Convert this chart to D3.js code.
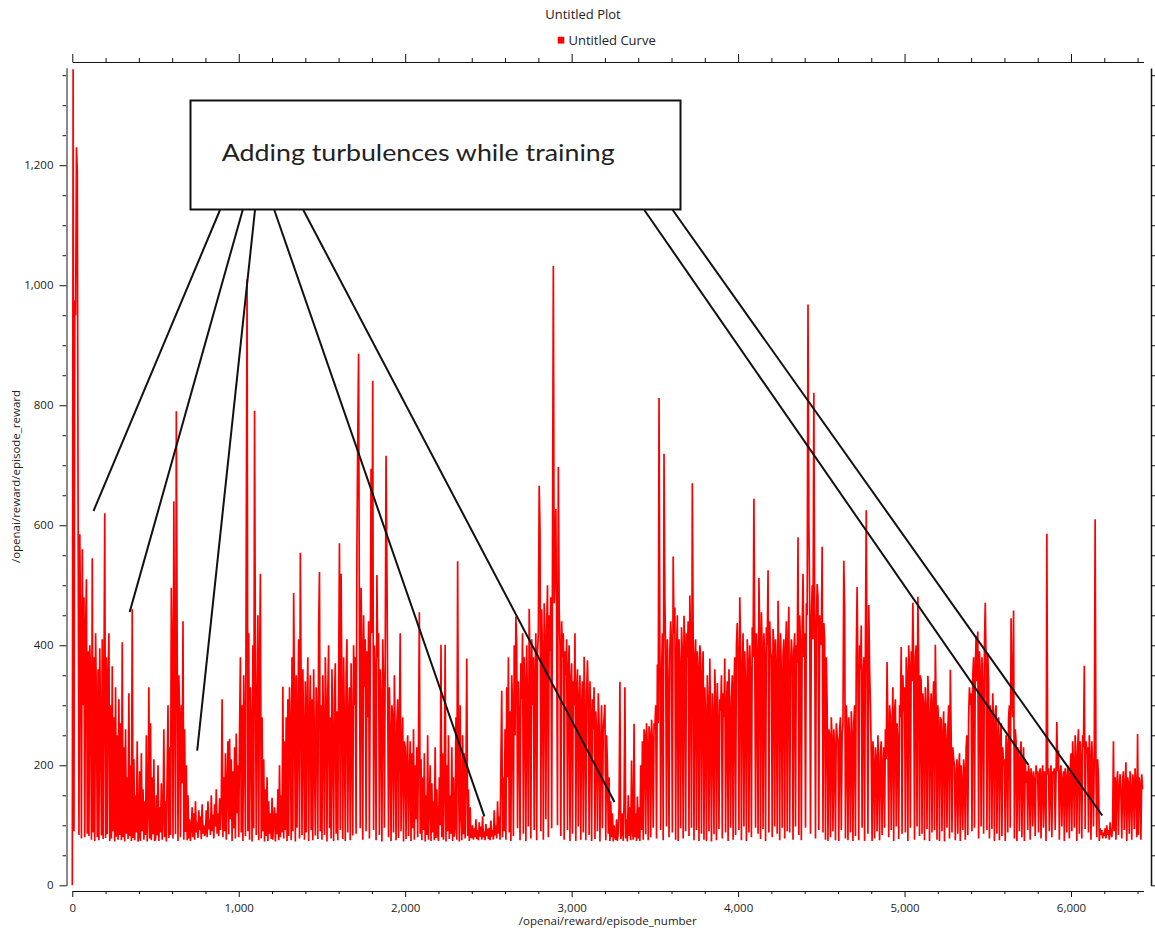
<!DOCTYPE html>
<html>
<head>
<meta charset="utf-8">
<script src="https://cdn.jsdelivr.net/npm/d3@7"></script>
<style>
  body { margin: 0; background: #fff; }
  text { font-family: "Open Sans", "DejaVu Sans", sans-serif; fill: #222; }
</style>
</head>
<body>
<svg id="chart" width="1155" height="930"></svg>
<script>
// Episode reward, one sample every 5 episodes (rows of 100 episodes)
const episodeRewards = [
  0,1360,90,975,950,1230,1190,610,84,585,420,78,560,300,480,80,430,510,86,390,
  82,400,350,76,545,88,380,74,420,300,80,360,75,395,270,83,410,77,330,620,
  79,380,85,350,420,74,300,78,365,90,280,73,330,81,250,76,310,84,270,75,
  405,80,230,73,260,86,180,77,320,82,200,74,460,79,210,75,150,88,240,73,
  81,190,74,220,90,160,76,140,84,250,73,120,330,78,270,75,180,85,210,74,
  77,150,83,200,74,130,88,170,76,110,260,80,140,73,190,300,79,230,84,496,
  380,78,640,320,85,790,410,74,350,280,80,300,170,440,76,260,89,200,75,150,
  78,110,74,95,130,80,120,76,140,88,105,79,125,92,115,77,135,86,100,82,
  88,125,80,140,93,110,84,150,90,118,78,135,98,160,86,120,82,145,92,130,
  310,80,180,90,220,76,160,240,85,244,110,210,74,190,95,230,78,253,120,200,
  80,260,380,88,300,74,350,240,82,560,1010,90,420,76,330,260,73,400,95,791,
  380,84,300,450,75,360,519,78,280,90,210,73,160,82,180,74,140,86,120,77,
  146,76,110,130,73,120,85,160,75,200,80,150,88,331,78,240,92,280,74,310,
  82,330,260,75,380,90,487,300,73,350,96,280,410,78,554,320,84,360,250,76,
  340,88,300,380,74,270,350,92,310,75,360,220,83,330,280,77,430,522,90,300,
  76,350,260,84,380,300,73,320,400,95,280,78,360,240,74,310,370,86,290,75,
  330,570,92,519,300,77,380,260,74,350,410,88,280,330,75,370,250,83,400,300,
  380,86,566,746,886,420,95,496,380,76,450,330,410,90,390,280,440,78,360,694,
  420,841,92,400,350,75,517,380,420,84,360,300,73,410,340,96,380,716,537,300,
  80,330,250,74,300,280,88,350,240,75,270,310,79,260,420,90,220,280,73,240,
  230,77,210,250,82,180,240,74,220,95,260,76,200,110,230,80,240,455,86,210,
  75,180,92,220,73,150,84,250,76,130,200,74,170,88,140,75,230,79,160,85,
  74,180,100,401,80,220,76,160,401,73,200,90,250,77,150,86,230,74,180,81,
  96,280,76,540,200,73,300,120,75,250,85,220,78,180,378,82,160,74,130,80,
  79,100,76,95,80,110,77,92,75,105,81,98,76,115,80,90,75,102,82,94,
  77,96,75,108,81,92,76,125,83,100,78,140,86,115,76,200,324,80,180,90,
  260,76,330,180,380,88,290,74,350,300,82,400,250,448,399,95,340,280,75,370,
  310,420,86,380,330,74,400,290,98,461,360,78,410,300,380,92,350,420,75,390,
  420,666,591,90,460,380,76,470,410,110,430,500,80,450,390,480,95,560,1032,470,
  520,627,430,100,697,460,400,82,440,380,420,76,390,350,410,92,360,400,74,340,
  370,86,340,300,420,74,330,360,98,310,350,76,300,340,88,381,290,75,320,375,
  300,84,340,280,74,310,260,330,77,290,250,90,320,270,73,240,300,95,260,280,
  301,75,250,200,86,180,74,140,80,120,73,100,82,76,110,74,88,130,339,77,
  85,120,74,140,330,78,110,73,150,82,130,75,208,90,76,269,80,120,74,148,
  78,130,74,200,92,240,76,260,250,85,270,230,75,265,250,80,276,240,96,270,
  260,300,78,368,270,812,400,92,350,420,75,719,480,380,98,410,330,80,390,440,
  400,88,548,420,463,76,380,450,74,410,360,95,430,390,78,449,400,90,420,380,
  440,82,483,400,96,670,420,75,380,410,92,390,360,74,400,384,86,350,390,76,
  330,280,74,350,300,90,378,260,73,320,280,85,360,300,75,337,270,94,310,290,
  350,78,320,280,378,88,300,340,74,360,290,96,310,350,76,330,380,84,400,437,
  380,92,480,400,75,360,420,98,390,330,74,410,370,88,400,350,80,430,380,644,
  400,96,420,380,86,512,410,77,455,390,94,420,380,74,430,400,525,88,440,390,
  380,80,427,400,98,410,360,86,474,380,75,420,350,96,386,410,78,390,440,90,
  400,464,88,356,410,380,76,390,420,98,400,370,580,84,450,400,75,430,519,380,
  420,96,470,450,968,606,480,86,440,500,410,821,460,78,430,502,480,92,450,420,
  400,564,88,437,410,76,380,300,74,260,250,80,280,240,90,260,230,75,270,250,
  240,74,260,280,92,250,270,541,463,78,300,260,75,280,240,88,290,250,74,270,
  300,82,380,497,340,75,400,360,433,96,350,380,74,410,625,330,86,467,360,300,
  220,74,240,200,78,230,210,90,250,190,75,220,240,84,200,230,96,260,210,372,
  250,80,300,280,92,260,330,74,290,310,98,270,240,77,300,280,397,86,350,290,
  330,88,380,350,74,400,360,96,390,340,471,355,76,380,400,98,481,370,82,350,
  340,86,320,300,75,330,290,94,349,310,74,280,320,88,300,340,92,401,290,76,
  300,260,74,280,276,90,250,290,73,270,240,96,260,300,78,359,250,88,230,210,
  200,75,180,210,86,190,220,74,200,170,92,210,190,76,230,250,84,280,330,300,
  320,90,350,380,96,360,416,340,423,78,390,350,98,380,330,86,400,471,360,92,
  386,340,78,300,280,94,320,260,74,289,300,86,250,280,75,240,270,82,230,200,
  210,74,250,230,88,280,300,96,445,320,280,458,78,260,240,74,230,210,90,220,
  240,80,200,230,74,210,170,190,92,200,185,76,195,180,98,190,175,82,200,185,
  190,88,185,195,78,180,200,96,190,175,74,586,185,195,90,180,200,80,190,185,
  195,92,180,272,190,225,76,185,200,98,175,190,74,195,180,88,200,185,78,190,
  220,90,240,200,96,250,210,74,230,260,86,240,210,78,250,230,366,94,240,220,
  230,88,250,210,76,240,200,98,220,610,190,80,210,180,74,95,84,92,78,88,
  82,95,78,100,84,92,76,105,88,80,98,240,90,180,76,170,190,84,160,185,
  150,78,175,190,92,160,205,74,180,170,86,190,160,76,185,175,94,195,165,80,
  252,84,180,170,76,185,160
];
const episodeStep = 5;

const xDomain = [0, 6435];
const yDomain = [0, 1362];
const xMajorTicks = [0, 1000, 2000, 3000, 4000, 5000, 6000];
const xMinorTicks = [200, 400, 600, 800, 1200, 1400, 1600, 1800, 2200, 2400, 2600, 2800,
                     3200, 3400, 3600, 3800, 4200, 4400, 4600, 4800, 5200, 5400, 5600, 5800, 6200, 6400];
const yMajorTicks = [0, 200, 400, 600, 800, 1000, 1200];
const yMinorTicks = [50, 100, 150, 250, 300, 350, 450, 500, 550, 650, 700, 750,
                     850, 900, 950, 1050, 1100, 1150, 1250, 1300, 1350];

const titleText = "Untitled Plot";
const legendText = "Untitled Curve";
const xLabel = "/openai/reward/episode_number";
const yLabel = "/openai/reward/episode_reward";
const noteText = "Adding turbulences while training";
// Callout leader lines: [start x, start y, end x, end y] in page pixels
const noteLeaders = [
  [220, 210, 93.5, 511],
  [242.7, 210, 129.7, 612],
  [255, 210, 197.2, 750.6],
  [274.3, 210, 484.4, 816.4],
  [303.3, 210, 614.5, 802],
  [644.3, 210, 1028.5, 765],
  [672.7, 210, 1102.3, 815.5]
];

const svg = d3.select("#chart");
const x = d3.scaleLinear().domain(xDomain).range([72.3, 1143.4]);
const y = d3.scaleLinear().domain(yDomain).range([885.3, 68]);
const fmt = d3.format(",");

// Title and legend
svg.append("text").attr("x", 583).attr("y", 18.5).attr("text-anchor", "middle")
  .style("font-size", "13px").text(titleText);
svg.append("rect").attr("x", 557.7).attr("y", 36.8).attr("width", 6.6).attr("height", 6.8).attr("fill", "#ff0000");
svg.append("text").attr("x", 568.5).attr("y", 44.5).style("font-size", "13px").text(legendText);

// Data curve
const line = d3.line().x((d, i) => x(i * episodeStep)).y(d => y(d));
svg.append("path").datum(episodeRewards)
  .attr("d", line).attr("fill", "none").attr("stroke", "#ff0000")
  .attr("stroke-width", 1.7).attr("stroke-linejoin", "bevel");

function styleAxis(g, color, width) {
  g.select(".domain").attr("stroke", color).attr("stroke-width", width);
  g.selectAll(".tick line").attr("stroke", "#111");
  g.selectAll(".tick text").style("font-size", "11.5px").attr("fill", "#222")
    .style("font-family", "'Open Sans', sans-serif");
}

// Bottom axis
const gb = svg.append("g").attr("transform", "translate(0,891)");
gb.append("g").call(d3.axisBottom(x).tickValues(xMinorTicks).tickSize(3).tickSizeOuter(0).tickFormat(""))
  .call(g => styleAxis(g, "#111", 1.2));
gb.append("g").call(d3.axisBottom(x).tickValues(xMajorTicks).tickSize(6).tickSizeOuter(0).tickPadding(6.8).tickFormat(fmt))
  .call(g => styleAxis(g, "#111", 1.2));

// Top axis
const gt = svg.append("g").attr("transform", "translate(0,62)");
gt.append("g").call(d3.axisTop(x).tickValues(xMinorTicks).tickSize(4).tickSizeOuter(0).tickFormat(""))
  .call(g => styleAxis(g, "#111", 1.2));
gt.append("g").call(d3.axisTop(x).tickValues(xMajorTicks).tickSize(8).tickSizeOuter(0).tickFormat(""))
  .call(g => styleAxis(g, "#111", 1.2));

// Left axis
const gl = svg.append("g").attr("transform", "translate(66.5,0)");
gl.append("g").call(d3.axisLeft(y).tickValues(yMinorTicks).tickSize(4).tickSizeOuter(0).tickFormat(""))
  .call(g => styleAxis(g, "#8a8a8a", 2));
gl.append("g").call(d3.axisLeft(y).tickValues(yMajorTicks).tickSize(7).tickSizeOuter(0).tickPadding(6).tickFormat(fmt))
  .call(g => styleAxis(g, "#8a8a8a", 2));

// Right axis
const gr = svg.append("g").attr("transform", "translate(1151,0)");
gr.append("g").call(d3.axisRight(y).tickValues(yMinorTicks.concat(yMajorTicks)).tickSize(4).tickSizeOuter(0).tickFormat(""))
  .call(g => styleAxis(g, "#111", 1.5));

// Axis titles
svg.append("text").attr("x", 607.8).attr("y", 925).attr("text-anchor", "middle")
  .style("font-size", "11.5px").text(xLabel);
svg.append("text").attr("transform", "translate(20,476.5) rotate(-90)").attr("text-anchor", "middle")
  .style("font-size", "11.5px").text(yLabel);

// Callout box with leader lines
svg.append("g").selectAll("line").data(noteLeaders).join("line")
  .attr("x1", d => d[0]).attr("y1", d => d[1]).attr("x2", d => d[2]).attr("y2", d => d[3])
  .attr("stroke", "#111").attr("stroke-width", 2);
svg.append("rect").attr("x", 190.5).attr("y", 100.5).attr("width", 490).attr("height", 109)
  .attr("fill", "#fff").attr("stroke", "#111").attr("stroke-width", 2);
svg.append("text").attr("x", 221.7).attr("y", 160.5)
  .style("font-family", "Lato, 'Open Sans', sans-serif").style("font-size", "24px").attr("fill", "#111")
  .attr("textLength", 393).attr("lengthAdjust", "spacingAndGlyphs").text(noteText);
</script>
</body>
</html>
